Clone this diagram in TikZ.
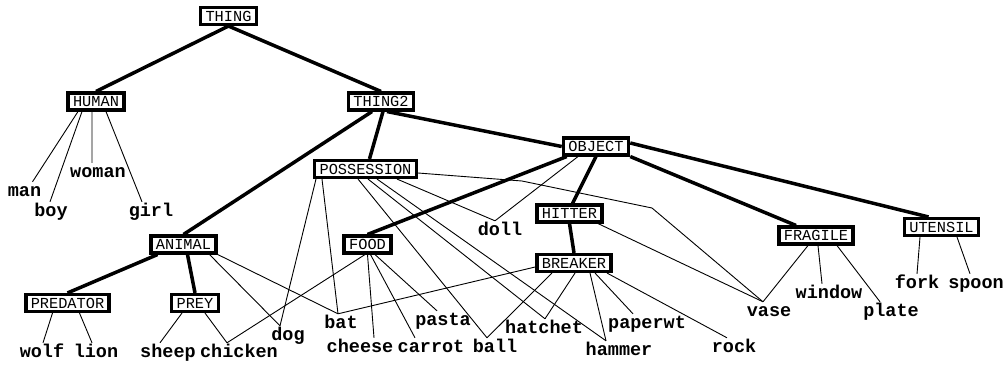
\documentclass[tikz,border=0pt]{standalone}
\usepackage{fontspec}
\setmonofont{Liberation Mono}
\usepackage{tikz}

\begin{document}
\begin{tikzpicture}[x=1pt,y=-1pt,
		cat/.style={draw,line width=3.5pt,fill=white,font=\fontsize{15.3}{18}\selectfont\ttfamily,inner xsep=5pt,inner ysep=3.3pt,text height=10pt,text depth=0pt},
		word/.style={font=\fontsize{18.5}{22}\selectfont\ttfamily\bfseries,inner xsep=0pt,inner ysep=2pt,text height=12pt,anchor=base},
		isa/.style={line width=3.5pt},
		link/.style={line width=0.9pt}]
		\useasboundingbox (0,0) rectangle (1008,365);

		% categories
		\node[cat] (THING) at (228.5,16) {THING};
		\node[cat] (HUMAN) at (96,101.5) {HUMAN};
		\node[cat] (THING2) at (381,101.5) {THING2};
		\node[cat] (POSSESSION) at (365.5,169) {POSSESSION};
		\node[cat] (OBJECT) at (596,146.5) {OBJECT};
		\node[cat] (HITTER) at (569.5,213.5) {HITTER};
		\node[cat] (BREAKER) at (574,263) {BREAKER};
		\node[cat] (FOOD) at (367.5,244.5) {FOOD};
		\node[cat] (ANIMAL) at (183.5,244.5) {ANIMAL};
		\node[cat] (PREDATOR) at (67.5,303) {PREDATOR};
		\node[cat] (PREY) at (195,303) {PREY};
		\node[cat] (FRAGILE) at (816,235.5) {FRAGILE};
		\node[cat] (UTENSIL) at (941.5,227) {UTENSIL};

		% words
		\node[word] (man) at (24.5,196) {man};
		\node[word] (boy) at (51,216) {boy};
		\node[word] (woman) at (98,177) {woman};
		\node[word] (girl) at (151,216) {girl};
		\node[word] (wolf) at (42,357) {wolf};
		\node[word] (lion) at (96,357) {lion};
		\node[word] (sheep) at (168,357) {sheep};
		\node[word] (chicken) at (239,357) {chicken};
		\node[word] (dog) at (288,340) {dog};
		\node[word] (bat) at (341,328) {bat};
		\node[word] (cheese) at (360,352) {cheese};
		\node[word] (carrot) at (431,352) {carrot};
		\node[word] (pasta) at (443,325) {pasta};
		\node[word] (ball) at (495,352) {ball};
		\node[word] (hatchet) at (544,333) {hatchet};
		\node[word] (hammer) at (619,355) {hammer};
		\node[word] (paperwt) at (647,328) {paperwt};
		\node[word] (rock) at (734,352) {rock};
		\node[word] (doll) at (500,235) {doll};
		\node[word] (vase) at (769,316) {vase};
		\node[word] (window) at (829,298) {window};
		\node[word] (plate) at (891,316) {plate};
		\node[word] (fork) at (917,288) {fork};
		\node[word] (spoon) at (976,288) {spoon};

		% is-a links
		\draw[isa] (THING.south) -- (HUMAN.north);
		\draw[isa] (THING.south) -- (THING2.north);
		\draw[isa] ([xshift=-9pt]THING2.south) -- (ANIMAL.north);
		\draw[isa] ([xshift=2pt]THING2.south) -- ([xshift=4pt]POSSESSION.north);
		\draw[isa] ([xshift=6pt]THING2.south) -- (OBJECT.west);
		\draw[isa] ([xshift=5pt]OBJECT.south west) -- (FOOD.north);
		\draw[isa] (OBJECT.south) -- ([xshift=3pt]HITTER.north);
		\draw[isa] (OBJECT.south east) -- ([xshift=-20pt]FRAGILE.north);
		\draw[isa] ([yshift=3.5pt]OBJECT.east) -- ([xshift=-13pt]UTENSIL.north);
		\draw[isa] (HITTER.south) -- (BREAKER.north);
		\draw[isa] ([xshift=-26pt]ANIMAL.south) -- (PREDATOR.north);
		\draw[isa] ([xshift=4pt]ANIMAL.south) -- (PREY.north);

		% members
		\draw[link] ([xshift=-18pt]HUMAN.south) -- ([xshift=8pt]man.north)
			([xshift=-14pt]HUMAN.south) -- ([xshift=-1pt]boy.north)
			([xshift=-4pt]HUMAN.south) -- ([xshift=-6pt]woman.north)
			([xshift=10pt]HUMAN.south) -- ([xshift=-9pt]girl.north);
		\draw[link] ([xshift=-15pt]PREDATOR.south) -- ([xshift=1pt]wolf.north)
			([xshift=12pt]PREDATOR.south) -- ([xshift=-4pt]lion.north);
		\draw[link] ([xshift=-13pt]PREY.south) -- ([xshift=-8pt]sheep.north)
			([xshift=10pt]PREY.south) -- ([xshift=-12pt]chicken.north);
		\draw[link] ([xshift=26pt]ANIMAL.south) -- ([xshift=-8pt]dog.north)
			(ANIMAL.south east) -- ([xshift=-3pt]bat.north);
		\draw[link] ([xshift=-49.5pt]POSSESSION.south) -- ([xshift=-8pt]dog.north)
			([xshift=-43.5pt]POSSESSION.south) -- ([xshift=-3pt]bat.north)
			([xshift=-7.5pt]POSSESSION.south) -- ([xshift=-8pt]ball.north)
			([xshift=2.5pt]POSSESSION.south) -- ([xshift=1pt]hatchet.north)
			([xshift=11.5pt]POSSESSION.south) -- ([xshift=-13pt]hammer.north)
			([xshift=31.5pt]POSSESSION.south) -- ([xshift=-5pt]doll.north);
		\draw[link] ([yshift=-4pt]POSSESSION.east) -- (522,181) -- (652,208) -- ([xshift=-6pt]vase.north);
		\draw[link] ([xshift=-2.5pt]FOOD.south) -- ([xshift=-12pt]chicken.north)
			(FOOD.south) -- ([xshift=14pt]cheese.north)
			([xshift=3pt]FOOD.south) -- ([xshift=-16pt]carrot.north)
			([xshift=7.5pt]FOOD.south) -- ([xshift=-6pt]pasta.north);
		\draw[link] ([xshift=-18pt]OBJECT.south) -- ([xshift=-5pt]doll.north);
		\draw[link] ([xshift=28.5pt]HITTER.south) -- ([xshift=-6pt]vase.north);
		\draw[link] ([yshift=-4pt]BREAKER.west) -- ([xshift=-3pt]bat.north)
			([xshift=-22pt]BREAKER.south) -- ([xshift=-8pt]ball.north)
			([xshift=1pt]BREAKER.south) -- ([xshift=1pt]hatchet.north)
			([xshift=16pt]BREAKER.south) -- ([xshift=-13pt]hammer.north)
			([xshift=21pt]BREAKER.south) -- ([xshift=-14pt]paperwt.north)
			([xshift=33pt]BREAKER.south) -- ([xshift=-7pt]rock.north);
		\draw[link] ([xshift=-8pt]FRAGILE.south) -- ([xshift=-6pt]vase.north)
			([xshift=2pt]FRAGILE.south) -- ([xshift=-7pt]window.north)
			([xshift=21pt]FRAGILE.south) -- ([xshift=-11pt]plate.north);
		\draw[link] ([xshift=-21.5pt]UTENSIL.south) -- (fork.north)
			([xshift=15.5pt]UTENSIL.south) -- ([xshift=-6pt]spoon.north);
\end{tikzpicture}
\end{document}
